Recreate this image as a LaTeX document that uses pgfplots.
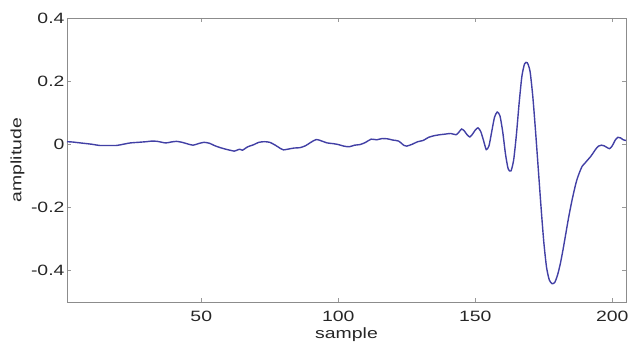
\documentclass[border=0pt]{standalone}
\usepackage{fontspec}
\setmainfont{Liberation Sans}[FakeStretch=1.3]
\usepackage{pgfplots}
\pgfplotsset{compat=1.18}
\begin{document}
\begin{tikzpicture}
\begin{axis}[
  name=ax,
  scale only axis,
  width=559bp, height=284bp,
  xmin=1, xmax=205, ymin=-0.5, ymax=0.4,
  xtick={50,100,150,200},
  ytick={-0.4,-0.2,0,0.2,0.4},
  yticklabels={-0.4,-0.2,0,0.2,0.4},
  tick align=inside,
  major tick length=4bp,
  axis line style={draw=black!45, line width=0.6bp},
  tick style={draw=black!40, line width=0.6bp},
  /pgf/number format/assume math mode=true,
  ticklabel style={font=\fontsize{15}{18}\selectfont, text=black!85},
  xticklabel style={yshift=-6bp},
  yticklabel style={xshift=1bp},
  label style={font=\fontsize{15}{18}\selectfont, text=black!85},
  xlabel={sample},
  ylabel={amplitude},
  xlabel style={at={(axis description cs:0.5,0)}, anchor=south, yshift=-43bp},
  ylabel style={at={(axis description cs:0,0.5)}, anchor=south, yshift=39bp},
]
\addplot[color={rgb,255:red,66;green,64;blue,165}, line width=1.4bp, smooth, tension=0.4] coordinates {
(1,0.008) (3,0.007) (5,0.005) (8,0.002) (10,0.000) (13,-0.004) (16,-0.004) (19,-0.004)
(21,-0.001) (24,0.004) (27,0.006) (30,0.008) (32,0.010) (34,0.009) (37,0.004) (39,0.007)
(41,0.009) (43,0.006) (45,0.001) (47,-0.003) (49,0.002) (51,0.006) (53,0.003) (55,-0.005)
(57,-0.011) (59,-0.016) (61,-0.020) (62,-0.022) (64,-0.016) (65,-0.019) (67,-0.008) (69,-0.002)
(71,0.006) (73,0.008) (75,0.006) (77,-0.003) (79,-0.014) (80,-0.018) (82,-0.015) (84,-0.012)
(86,-0.011) (88,-0.005) (90,0.006) (92,0.015) (94,0.010) (96,0.004) (98,0.002) (100,-0.001)
(102,-0.006) (104,-0.008) (106,-0.003) (108,-0.001) (110,0.006) (112,0.016) (114,0.014) (116,0.018)
(118,0.017) (120,0.013) (122,0.010) (124,-0.004) (125,-0.006) (127,0.000) (129,0.008) (131,0.012)
(133,0.022) (135,0.027) (137,0.030) (139,0.032) (141,0.034) (143,0.030) (144,0.038) (145,0.048)
(146,0.042) (147,0.030) (148,0.023) (149,0.032) (150,0.045) (151,0.052) (152,0.040) (153,0.012)
(154,-0.017) (155,-0.005) (156,0.040) (157,0.085) (158,0.102) (159,0.090) (160,0.040) (161,-0.030)
(162,-0.078) (163,-0.085) (164,-0.050) (165,0.030) (166,0.130) (167,0.215) (168,0.255) (169,0.258)
(170,0.230) (171,0.150) (172,0.040) (173,-0.080) (174,-0.200) (175,-0.310) (176,-0.390) (177,-0.430)
(178,-0.442) (179,-0.438) (180,-0.415) (181,-0.380) (182,-0.335) (183,-0.285) (184,-0.235) (185,-0.190)
(186,-0.150) (187,-0.115) (188,-0.090) (189,-0.070) (190,-0.060) (191,-0.050) (192,-0.040) (193,-0.028)
(194,-0.015) (195,-0.006) (196,-0.003) (197,-0.005) (198,-0.010) (199,-0.014) (200,-0.005) (201,0.012)
(202,0.022) (203,0.020) (204,0.014) (205,0.012)
};
\end{axis}
\pgfresetboundingbox
\path[use as bounding box] ([shift={(-67bp,-41bp)}]ax.south west) rectangle ([shift={(2bp,18bp)}]ax.north east);
\end{tikzpicture}
\end{document}
